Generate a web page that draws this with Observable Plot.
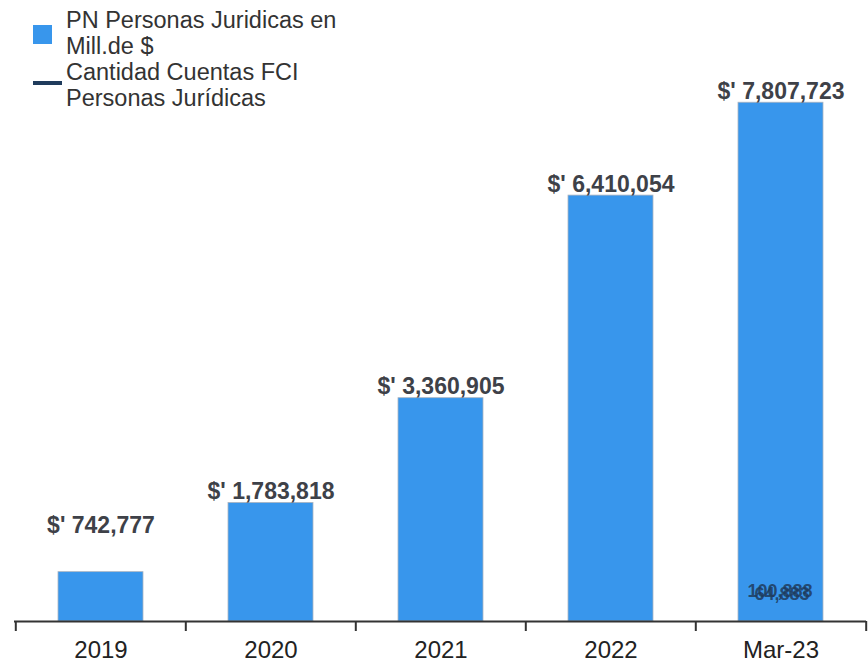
<!DOCTYPE html>
<html>
<head>
<meta charset="utf-8">
<script src="https://cdn.jsdelivr.net/npm/d3@7"></script>
<script src="https://cdn.jsdelivr.net/npm/@observablehq/plot@0.6"></script>
<style>
  html, body { margin: 0; padding: 0; background: #fff; }
  #wrap { position: relative; width: 868px; height: 662px; font-family: "Liberation Sans", Arial, sans-serif; }
  #legend { position: absolute; left: 0; top: 0; font-size: 23.5px; color: #333; }
  .item { position: relative; padding-left: 66px; line-height: 26px; }
  .sw { position: absolute; left: 33px; }
</style>
</head>
<body>
<div id="wrap">
  <div id="chart"></div>
  <div id="legend">
    <div class="item" style="margin-top:7px"><span class="sw" style="top:18px;width:19px;height:19px;background:#3896ec"></span>PN Personas Juridicas en<br>Mill.de $</div>
    <div class="item"><span class="sw" style="top:22px;width:29px;height:4px;background:#1f3b5c"></span>Cantidad Cuentas FCI<br>Personas Jurídicas</div>
  </div>
</div>
<script>
const categories = ["2019", "2020", "2021", "2022", "Mar-23"];
const pnValues = [742777, 1783818, 3360905, 6410054, 7807723];
const cuentasLabels = ["100,888", "64,883"];
const cuentasCategory = "Mar-23";

const data = categories.map((c, i) => ({cat: c, value: pnValues[i], label: "$' " + d3.format(",")(pnValues[i])}));
const cuentas = cuentasLabels.map(t => ({cat: cuentasCategory, label: t}));

const W = 868, H = 662, mL = 14, mR = 2;
const step = (W - mL - mR) / categories.length;
const edges = categories.map(c => ({cat: c})).concat([{cat: categories[categories.length - 1]}]);

const chart = Plot.plot({
  width: W,
  height: H,
  marginLeft: mL,
  marginRight: mR,
  marginTop: 23,
  marginBottom: 41,
  style: {fontFamily: "Liberation Sans, Arial, sans-serif", background: "#fff"},
  x: {type: "band", domain: categories, paddingInner: 0.5, paddingOuter: 0.25, align: 0.5, label: null},
  y: {domain: [0, 9000000], axis: null},
  marks: [
    Plot.barY(data, {x: "cat", y: "value", fill: "#3896ec", stroke: "#aab4c0", strokeWidth: 0.8}),
    Plot.ruleY([0], {stroke: "#333", strokeWidth: 2}),
    Plot.ruleX(edges.slice(0, -1), {x: "cat", y1: 0, y2: 0, dx: -step / 2, insetBottom: -10, stroke: "#333", strokeWidth: 2}),
    Plot.ruleX(edges.slice(-1), {x: "cat", y1: 0, y2: 0, dx: step / 2, insetBottom: -10, stroke: "#333", strokeWidth: 2}),
    Plot.axisX({tickSize: 0, tickPadding: 19, fontSize: 24, fill: "#222", label: null}),
    Plot.text(data.slice(0, 1), {x: "cat", y: "value", text: "label", lineAnchor: "bottom", dy: -39, fontSize: 23, fontWeight: "bold", fill: "#3e4148"}),
    Plot.text(data.slice(1), {x: "cat", y: "value", text: "label", lineAnchor: "bottom", dy: -4, fontSize: 23, fontWeight: "bold", fill: "#3e4148"}),
    Plot.text(cuentas.slice(0, 1), {x: "cat", y: () => 0, text: "label", lineAnchor: "bottom", dy: -25, dx: -1, fontSize: 18, fontWeight: "bold", fill: "#1f3b5c", fillOpacity: 0.85}),
    Plot.text(cuentas.slice(1), {x: "cat", y: () => 0, text: "label", lineAnchor: "bottom", dy: -22, dx: 1, fontSize: 18, fontWeight: "bold", fill: "#1f3b5c", fillOpacity: 0.85})
  ]
});
document.getElementById("chart").appendChild(chart);
</script>
</body>
</html>
